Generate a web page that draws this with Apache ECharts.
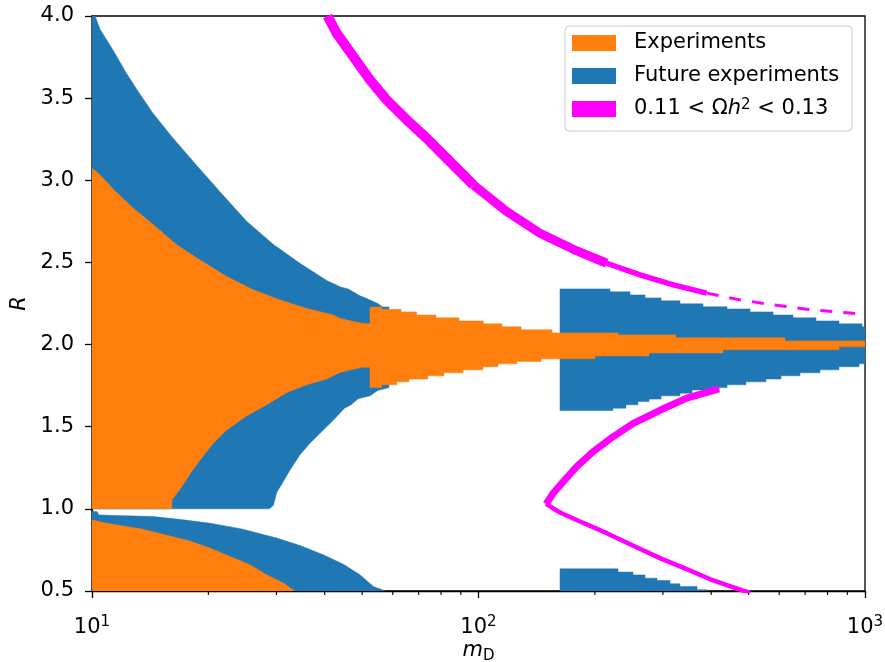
<!DOCTYPE html>
<html><head><meta charset="utf-8">
<script src="https://cdn.jsdelivr.net/npm/echarts@6/dist/echarts.min.js"></script>
<style>html,body{margin:0;padding:0;background:#fff}#c{width:885px;height:662px}</style>
</head><body><div id="c"></div>
<script>
// ---------- axis ticks ----------
const xTicks = [10, 100, 1000];
const minorTicks = [20,30,40,50,60,70,80,90,200,300,400,500,600,700,800,900];
const yTicks = [0.5,1.0,1.5,2.0,2.5,3.0,3.5,4.0];

// ---------- Experiments (orange), R > 1, low-mass bound: [mD, R] ----------
const expLowUpper = [[10,3.074],[10.49,3.033],[11.42,2.94],[12.79,2.83],[14.41,2.73],[16.56,2.607],[19.03,2.515],[22.31,2.414],[26.14,2.333],[30.65,2.272],[35.94,2.22],[42.10,2.18],[43.8,2.16],[46.8,2.144],[49.95,2.13],[52.39,2.126]];
const expLowLower = [[10,1.0],[16.08,1.0],[16.1,1.055],[16.89,1.12],[18.11,1.227],[19.03,1.298],[20.60,1.40],[22.31,1.48],[25.13,1.566],[28.31,1.633],[31.90,1.708],[35.94,1.755],[40.48,1.79],[43.8,1.83],[46.8,1.846],[49.95,1.862],[52.39,1.862]];
// ---------- Experiments (orange), high-mass band (stepped grid cells) ----------
const expHighUpperX = [52.39,56.17,63.03,69.20,77.62,89.03,102.9,115.0,128.8,155.0,229.6,324.3,620.9,1000];
const expHighUpperY = [2.228,2.215,2.199,2.18,2.163,2.144,2.126,2.108,2.09,2.071,2.059,2.041,2.022];
const expHighLowerX = [52.39,56.17,61.43,66.10,73.88,81.41,91.19,102.7,112.3,125.6,145.1,200.2,276.2,429.1,856.4,1000];
const expHighLowerY = [1.738,1.755,1.773,1.79,1.81,1.828,1.846,1.865,1.883,1.897,1.913,1.931,1.949,1.968,1.986];
// ---------- Experiments (orange), R < 1 ----------
const expBelowUpper = [[10,0.933],[10.68,0.917],[11.93,0.897],[13.45,0.878],[15.45,0.842],[17.75,0.807],[20.20,0.761],[22.75,0.71],[25.63,0.66],[28.31,0.599],[31.26,0.548],[33.51,0.5]];
const expBelowLower = [[10,0.5],[33.51,0.5]];

// ---------- Future experiments (blue), low mass, R > 1 ----------
const futLowUpper = [[10,4.05],[10.49,3.92],[11.42,3.78],[12.25,3.655],[13.05,3.554],[14.36,3.41],[16.07,3.266],[18.66,3.09],[21.43,2.93],[25.12,2.75],[29.43,2.61],[34.5,2.495],[40.48,2.39],[44.0,2.35],[46.0,2.339],[47.4,2.321],[49.0,2.30],[51.0,2.284],[53.0,2.266],[55.0,2.248],[56.5,2.229],[58.67,2.229]];
const futLowLower = [[10,1.0],[28.75,1.0],[29.45,1.02],[30.06,1.10],[31.26,1.166],[32.53,1.237],[34.53,1.33],[36.64,1.40],[38.89,1.46],[42.10,1.54],[45.0,1.613],[46.8,1.633],[48.8,1.67],[52.39,1.688],[54.85,1.72],[58.67,1.738]];
// ---------- Future experiments (blue), low mass, R < 1 ----------
const futBelowUpper = [[10,0.984],[10.3,0.984],[10.42,0.963],[14.41,0.953],[17.23,0.933],[20.20,0.913],[24.39,0.878],[30.06,0.822],[34.53,0.777],[39.66,0.72],[44.69,0.663],[49.36,0.599],[53.43,0.528],[57.54,0.5]];
const futBelowLower = [[10,0.5],[57.54,0.5]];
// ---------- Future experiments (blue), high mass (stepped) ----------
const futHighUpperX = [162.5,218.9,246.6,269.7,296.7,332.1,380.9,439.6,504.1,578.1,651.2,746.9,856.4,982.2,1000];
const futHighUpperY = [2.339,2.321,2.302,2.284,2.266,2.248,2.23,2.217,2.199,2.18,2.163,2.144,2.126,2.108];
const futHighLowerX = [162.5,222.8,240.7,258.6,276.2,296.7,332.1,356.8,419.2,439.6,492.1,554.3,606.3,678.9,764.9,856.4,965.0,1000];
const futHighLowerY = [1.598,1.613,1.633,1.653,1.668,1.688,1.704,1.724,1.738,1.755,1.773,1.79,1.81,1.828,1.846,1.865,1.883];
const futHighBelowX = [162.5,229.6,251.0,269.7,289.6,313.0,332.1,367.6,390.1];
const futHighBelowY = [0.635,0.615,0.598,0.578,0.564,0.544,0.528,0.508];

// ---------- relic density band 0.11 < Ωh² < 0.13 ----------
const relicUpperA = [[40.68,4.0],[42.96,3.895],[47.44,3.753],[52.39,3.611],[57.89,3.489],[65.20,3.368],[73.45,3.256],[81.90,3.144],[96.94,2.972]];
const relicUpperB = [[96.94,2.972],[118.3,2.81],[144.2,2.678],[175.9,2.58],[214.7,2.495]];
const relicUpperC = [[214.7,2.495],[261.8,2.424],[319.2,2.363],[389.4,2.313]];
const relicUpperD = [[389.4,2.313],[475.0,2.272],[579.1,2.242],[706.6,2.215],[932.6,2.19],[1000,2.186]];
const relicLowerA = [[419.2,1.73],[345.7,1.674],[294.8,1.60],[251.5,1.52],[223.2,1.44],[198.2,1.349],[179.5,1.257],[165.7,1.166],[156.2,1.096],[149.5,1.03]];
const relicLowerB = [[149.5,1.03],[162.5,0.978],[183.1,0.923],[214.7,0.852],[251.5,0.775],[294.8,0.70],[345.7,0.633],[405.1,0.564],[475.0,0.508],[504.1,0.49]];

const ORANGE = '#ff7f0e', BLUE = '#1f77b4', MAGENTA = '#ff00ff';
const FONT = 'DejaVu Sans';
const FS = 21;

function stairs(xs, ys) {
  const pts = [];
  for (let i = 0; i < ys.length; i++) { pts.push([xs[i], ys[i]]); pts.push([xs[i+1], ys[i]]); }
  return pts;
}
function band(name, color, upper, lower) {
  return {
    type: 'custom', name: name, coordinateSystem: 'cartesian2d', clip: true, silent: true,
    data: [[100, 2]], encode: {x: 0, y: 1}, itemStyle: {color: color},
    renderItem: function (params, api) {
      const pts = upper.map(p => api.coord(p)).concat(lower.slice().reverse().map(p => api.coord(p)));
      return {type: 'polygon', shape: {points: pts}, style: {fill: color, stroke: color, lineWidth: 0.5}};
    }
  };
}
function relic(data, width, dashed) {
  return {
    type: 'line', name: 'omega', data: data, showSymbol: false, symbol: 'none', silent: true,
    itemStyle: {color: MAGENTA}, clip: true,
    lineStyle: {color: MAGENTA, width: width, type: dashed ? [12, 11] : 'solid', cap: 'butt', join: 'round'}
  };
}

const chart = echarts.init(document.getElementById('c'), null, {renderer: 'canvas'});
chart.setOption({
  animation: false,
  backgroundColor: '#fff',
  grid: {left: 92, right: 20, top: 16, bottom: 71, show: true, borderColor: '#000', borderWidth: 1.3, containLabel: false, outerBoundsMode: 'none'},
  xAxis: {
    type: 'log', logBase: 10, min: 10, max: 1000,
    axisLine: {show: true, onZero: false, lineStyle: {color: '#000', width: 1.3}},
    axisTick: {show: true, length: 7, lineStyle: {color: '#000', width: 1.3}},
    splitLine: {show: false},
    axisLabel: {
      margin: 24, color: '#000', fontFamily: FONT, fontSize: FS, showMinLabel: true, showMaxLabel: true, hideOverlap: false,
      formatter: function (v) { const e = Math.round(Math.log10(v)); return xTicks.indexOf(Math.round(v)) >= 0 ? '{b|10}{sup|' + e + '}' : ''; },
      rich: {
        b: {fontSize: FS, fontFamily: FONT, color: '#000', lineHeight: 26},
        sup: {fontSize: 15, fontFamily: FONT, color: '#000', verticalAlign: 'top', lineHeight: 9}
      }
    },
    name: '{it|m}{sub|D}', nameLocation: 'middle', nameGap: 49, nameMoveOverlap: false,
    nameTextStyle: {rich: {
      it: {fontSize: FS, fontStyle: 'italic', fontFamily: FONT, color: '#000', lineHeight: 24, verticalAlign: 'top'},
      sub: {fontSize: 15, fontFamily: FONT, color: '#000', lineHeight: 14, verticalAlign: 'bottom', padding: [10, 0, 0, 0]}
    }}
  },
  yAxis: {
    type: 'value', min: 0.5, max: 4.0, interval: 0.5,
    axisLine: {show: true, onZero: false, lineStyle: {color: '#000', width: 1.3}},
    axisTick: {show: true, length: 7, lineStyle: {color: '#000', width: 1.3}},
    splitLine: {show: false},
    axisLabel: {margin: 18, color: '#000', fontFamily: FONT, fontSize: FS, formatter: v => (yTicks.indexOf(v) >= 0 ? v.toFixed(1) : '')},
    name: 'R', nameLocation: 'middle', nameGap: 62, nameRotate: 90, nameMoveOverlap: false,
    nameTextStyle: {fontSize: FS, fontStyle: 'italic', fontFamily: FONT, color: '#000'}
  },
  legend: {
    orient: 'vertical', left: 565, top: 26, padding: [6, 13, 11, 7],
    itemWidth: 44, itemHeight: 16, itemGap: 11,
    backgroundColor: 'rgba(255,255,255,0.8)', borderColor: '#cccccc', borderWidth: 1, borderRadius: 4,
    data: [{name: 'Experiments', icon: 'rect'}, {name: 'Future experiments', icon: 'rect'}, {name: 'omega', icon: 'rect', itemStyle: {color: MAGENTA}}],
    formatter: function (n) { return n === 'omega' ? '0.11 < Ω{it|h}{sup|2} < 0.13' : n; },
    textStyle: {fontSize: FS, fontFamily: FONT, color: '#000', padding: [0, 0, 0, 13], lineHeight: 22,
      rich: {
        it: {fontSize: FS, fontStyle: 'italic', fontFamily: FONT, color: '#000', lineHeight: 22},
        sup: {fontSize: 15, fontFamily: FONT, color: '#000', verticalAlign: 'top', lineHeight: 8}
      }}
  },
  series: [
    band('Future experiments', BLUE, futLowUpper, futLowLower),
    band('Future experiments', BLUE, futBelowUpper, futBelowLower),
    band('Future experiments', BLUE, stairs(futHighUpperX, futHighUpperY), stairs(futHighLowerX, futHighLowerY)),
    band('Future experiments', BLUE, stairs(futHighBelowX, futHighBelowY), [[162.5, 0.5], [390.1, 0.5]]),
    band('Experiments', ORANGE, expLowUpper, expLowLower),
    band('Experiments', ORANGE, stairs(expHighUpperX, expHighUpperY), stairs(expHighLowerX, expHighLowerY)),
    band('Experiments', ORANGE, expBelowUpper, expBelowLower),
    relic(relicUpperA, 10, false),
    relic(relicUpperB, 9, false),
    relic(relicUpperC, 5.5, false),
    relic(relicUpperD, 3, true),
    relic(relicLowerA, 7, false),
    relic(relicLowerB, 4.5, false),
    {
      type: 'custom', name: 'minor', coordinateSystem: 'cartesian2d', clip: false, silent: true,
      data: minorTicks.map(v => [v, 0.5]), encode: {x: 0, y: 1},
      renderItem: function (params, api) {
        const p = api.coord([api.value(0), 0.5]);
        return {type: 'line', shape: {x1: p[0], y1: p[1], x2: p[0], y2: p[1] + 4}, style: {stroke: '#000', lineWidth: 1.1}};
      }
    }
  ]
});
</script></body></html>
